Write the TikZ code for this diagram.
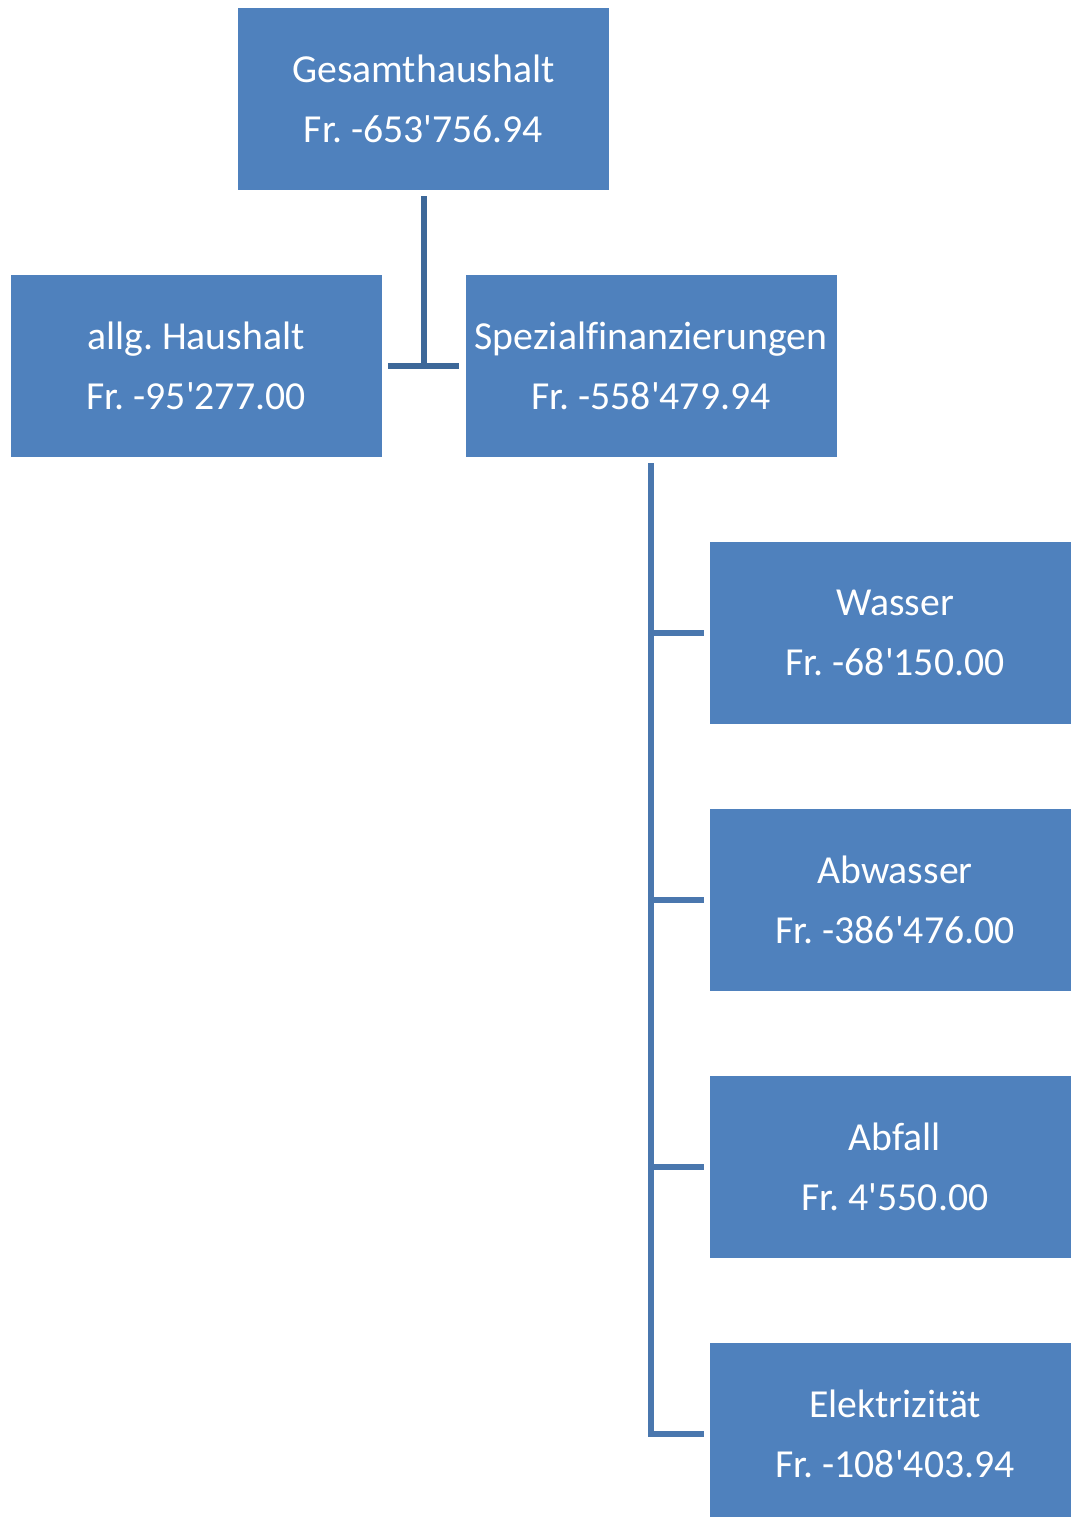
\documentclass[tikz,border=0pt]{standalone}
\usepackage{fontspec}
\setmainfont[Ligatures=NoCommon]{Carlito}
\frenchspacing
\definecolor{boxblue}{HTML}{4F81BD}
\definecolor{topline}{HTML}{3D6899}
\definecolor{treeline}{HTML}{4A77AE}
\newcommand{\tsd}{\textquotesingle}
\tikzset{
  unit/.style={fill=boxblue, text=white, minimum width=7.42cm, minimum height=3.64cm,
    inner sep=0pt, align=center, font=\fontsize{22.6}{34}\selectfont},
  link/.style={line width=0.12cm}
}
\begin{document}
\begin{tikzpicture}
  \useasboundingbox (0,0) rectangle (21.42,-30.34);
  \begin{scope}
    \clip (0,0) rectangle (21.42,-30.34);
    % top level
    \node[unit] (gesamt) at (8.47,-1.98) {Gesamthaushalt\\Fr. -653\tsd756.94};
    % second level
    \node[unit] (allg) at (3.92,-7.32) {allg. Haushalt\\Fr. -95\tsd277.00};
    \node[unit] (spezial) at (13.02,-7.32) {Spezialfinanzierungen\\Fr. -558\tsd479.94};
    % spezialfinanzierungen
    \node[unit] (wasser) at (17.9,-12.66) {Wasser\\Fr. -68\tsd150.00};
    \node[unit] (abwasser) at (17.9,-18.0) {Abwasser\\Fr. -386\tsd476.00};
    \node[unit] (abfall) at (17.9,-23.34) {Abfall\\Fr. 4\tsd550.00};
    \node[unit] (elektro) at (17.9,-28.68) {Elektrizit\"at\\Fr. -108\tsd403.94};
  \end{scope}
  % connectors
  \draw[link, topline, shorten <=0.12cm] (gesamt.south) -- (gesamt.south |- allg.east);
  \draw[link, topline, shorten <=0.12cm, shorten >=0.12cm] (allg.east) -- (spezial.west);
  \draw[link, treeline, shorten <=0.12cm, shorten >=-0.06cm] (spezial.south) -- (spezial.south |- elektro.west);
  \foreach \n in {wasser, abwasser, abfall, elektro}
    \draw[link, treeline, shorten >=0.1cm, shorten <=-0.06cm] (spezial.south |- \n.west) -- (\n.west);
\end{tikzpicture}
\end{document}
